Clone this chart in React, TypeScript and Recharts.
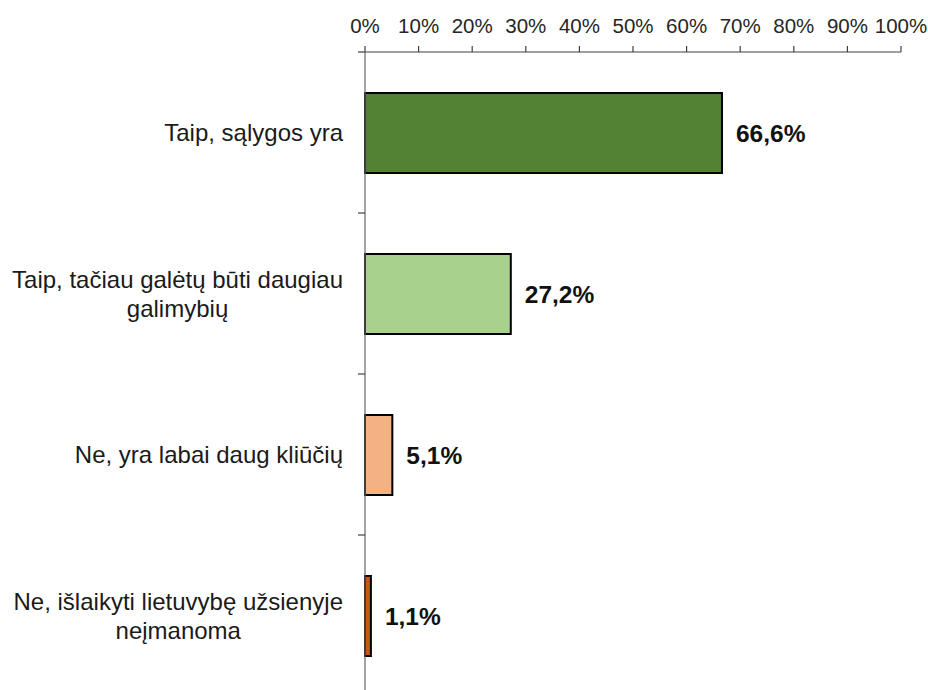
import { BarChart, Bar, XAxis, YAxis, Cell, LabelList } from "recharts"

const CATEGORIES = [
  "Taip, sąlygos yra",
  "Taip, tačiau galėtų būti daugiau\ngalimybių",
  "Ne, yra labai daug kliūčių",
  "Ne, išlaikyti lietuvybę užsienyje\nneįmanoma",
]
const VALUES = [0.666, 0.272, 0.051, 0.011]
const VALUE_LABELS = ["66,6%", "27,2%", "5,1%", "1,1%"]
const COLORS = ["#548235", "#A9D18E", "#F4B183", "#C55A11"]
const X_TICKS = [0, 0.1, 0.2, 0.3, 0.4, 0.5, 0.6, 0.7, 0.8, 0.9, 1]

const FONT = "'Liberation Sans', Arial, sans-serif"
const CHART_W = 928
const CHART_H = 696
const TOP = 52
const BAND = (CHART_H - TOP) / CATEGORIES.length

const data = CATEGORIES.map((name, i) => ({
  name,
  value: VALUES[i],
  label: VALUE_LABELS[i],
}))

let ctx: CanvasRenderingContext2D | null = null
function measure(text: string, font: string) {
  if (!ctx) ctx = document.createElement("canvas").getContext("2d")
  if (!ctx) return text.length * 11
  ctx.font = font
  return ctx.measureText(text).width
}

const CategoryTick = (props: any) => {
  const { x, y, payload, index } = props
  const lines = String(payload.value).split("\n")
  const size = 24
  const widths = lines.map((l) => measure(l, `${size}px ${FONT}`))
  const right = x - 22
  const cx = right - Math.max(...widths) / 2
  const lh = 29
  return (
    <g>
      {lines.map((l, i) => (
        <text
          key={i}
          x={cx}
          y={y + 8.5 + (i - (lines.length - 1) / 2) * lh}
          textAnchor="middle"
          fontSize={size}
          fontFamily={FONT}
          fill="#1a1a1a"
        >
          {l}
        </text>
      ))}
      {index === 0 && <line x1={x - 7} x2={x} y1={y - BAND / 2} y2={y - BAND / 2} stroke="#404040" strokeWidth={1.2} />}
      <line x1={x - 7} x2={x} y1={y + BAND / 2} y2={y + BAND / 2} stroke="#404040" strokeWidth={1.2} />
    </g>
  )
}

const ValueLabel = (props: any) => {
  const { x, y, width, height, value } = props
  return (
    <text
      x={x + width + 14}
      y={y + height / 2 + 8.5}
      fontSize={24.5}
      fontWeight="bold"
      fontFamily={FONT}
      fill="#111"
    >
      {value}
    </text>
  )
}

export default function App() {
  return (
    <div style={{ position: "absolute", left: 0, top: 0, width: CHART_W, height: 690, overflow: "hidden", background: "#fff" }}>
      <BarChart
        width={CHART_W}
        height={CHART_H}
        data={data}
        layout="vertical"
        margin={{ top: 0, right: 27, bottom: 0, left: 0 }}
      >
        <XAxis
          type="number"
          orientation="top"
          domain={[0, 1]}
          ticks={X_TICKS}
          tickFormatter={(v: number) => `${Math.round(v * 100)}%`}
          height={TOP}
          tickSize={6}
          tickMargin={13}
          axisLine={{ stroke: "#404040", strokeWidth: 1.2 }}
          tickLine={{ stroke: "#404040", strokeWidth: 1.2 }}
          tick={{ fill: "#262626", fontSize: 20.5, fontFamily: FONT }}
          interval={0}
        />
        <YAxis
          type="category"
          dataKey="name"
          width={365}
          tickSize={0}
          tickMargin={0}
          tickLine={false}
          axisLine={{ stroke: "#666", strokeWidth: 1.2 }}
          tick={<CategoryTick />}
          interval={0}
        />
        <Bar dataKey="value" barSize={80} stroke="#000" strokeWidth={2} isAnimationActive={false}>
          {data.map((_, i) => (
            <Cell key={`cell-${i}`} fill={COLORS[i]} />
          ))}
          <LabelList dataKey="label" content={<ValueLabel />} />
        </Bar>
      </BarChart>
    </div>
  )
}
